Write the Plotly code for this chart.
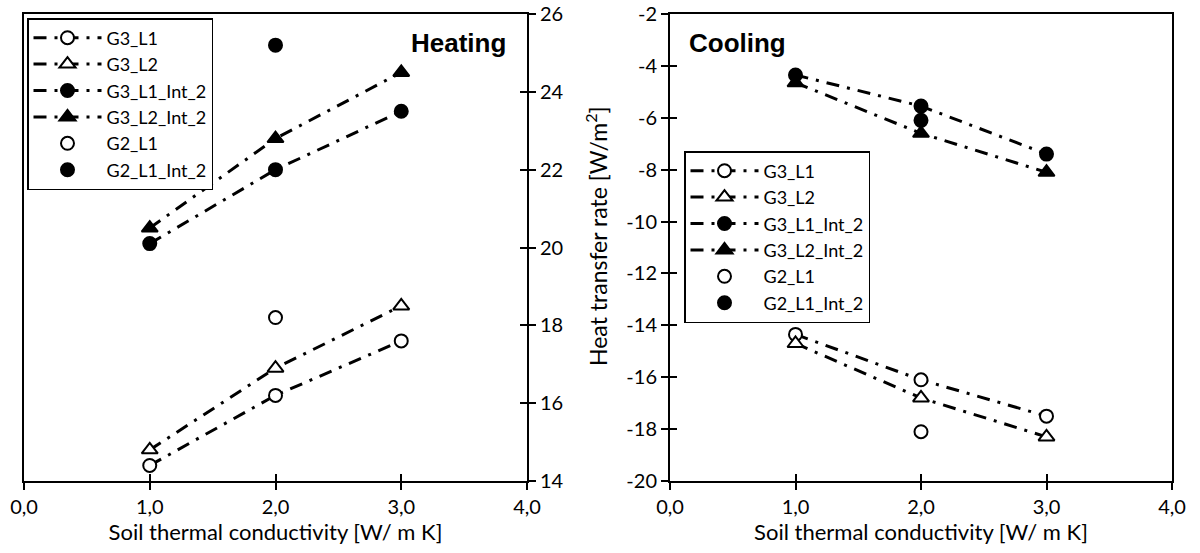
import plotly.graph_objects as go

# ---- data ----
x_vals = [1, 2, 3]
x_single = [2]
xtick_vals = [0, 1, 2, 3, 4]
xtick_text = ["0,0", "1,0", "2,0", "3,0", "4,0"]
heat_tick_vals = [14, 16, 18, 20, 22, 24, 26]
heat_tick_text = ["14", "16", "18", "20", "22", "24", "26"]
cool_tick_vals = [-20, -18, -16, -14, -12, -10, -8, -6, -4, -2]
cool_tick_text = ["-20", "-18", "-16", "-14", "-12", "-10", "-8", "-6", "-4", "-2"]

heat_G3_L1 = [14.4, 16.2, 17.6]
heat_G3_L2 = [14.8, 16.9, 18.5]
heat_G3_L1_Int_2 = [20.1, 22.0, 23.5]
heat_G3_L2_Int_2 = [20.5, 22.8, 24.5]
heat_G2_L1 = [18.2]
heat_G2_L1_Int_2 = [25.2]

cool_G3_L1 = [-14.35, -16.1, -17.5]
cool_G3_L2 = [-14.7, -16.8, -18.3]
cool_G3_L1_Int_2 = [-4.35, -5.55, -7.4]
cool_G3_L2_Int_2 = [-4.65, -6.6, -8.1]
cool_G2_L1 = [-18.1]
cool_G2_L1_Int_2 = [-6.1]

names = ["G3_L1", "G3_L2", "G3_L1_Int_2", "G3_L2_Int_2", "G2_L1", "G2_L1_Int_2"]

FONT = "Lato"
DASH = "13px,8px,3px,8px"

fig = go.Figure()

def add_series(xs, ys, name, symbol, filled, line, xa, ya, legend):
    fig.add_trace(go.Scatter(
        x=xs, y=ys, name=name, xaxis=xa, yaxis=ya, legend=legend,
        mode="lines+markers" if line else "markers",
        line=dict(color="black", width=3, dash=DASH),
        marker=dict(symbol=symbol, size=13 if symbol == "circle" else 14,
                    color="black" if filled else "white",
                    line=dict(color="black", width=2)),
    ))

heat = [heat_G3_L1, heat_G3_L2, heat_G3_L1_Int_2, heat_G3_L2_Int_2, heat_G2_L1, heat_G2_L1_Int_2]
cool = [cool_G3_L1, cool_G3_L2, cool_G3_L1_Int_2, cool_G3_L2_Int_2, cool_G2_L1, cool_G2_L1_Int_2]
symbols = ["circle", "triangle-up", "circle", "triangle-up", "circle", "circle"]
filled = [False, False, True, True, False, True]
lines = [True, True, True, True, False, False]

for i in range(6):
    xs = x_vals if lines[i] else x_single
    add_series(xs, heat[i], names[i], symbols[i], filled[i], lines[i], "x", "y", "legend")
for i in range(6):
    xs = x_vals if lines[i] else x_single
    add_series(xs, cool[i], names[i], symbols[i], filled[i], lines[i], "x2", "y2", "legend2")

tickfont = dict(family=FONT, size=20, color="black")
xtitlefont = dict(family=FONT, size=22, color="black")
ytitlefont = dict(family=FONT, size=23, color="black")

xcommon = dict(range=[0, 4], tickvals=xtick_vals, ticktext=xtick_text, ticks="outside",
               ticklen=7, tickwidth=2, tickcolor="black", showline=True, linewidth=2,
               linecolor="black", mirror=True, showgrid=False, zeroline=False,
               tickfont=tickfont, automargin=False)

xd1 = [24 / 1200, 527 / 1200]
xd2 = [670 / 1200, 1172 / 1200]
yd = [1 - 481 / 553, 1 - 14 / 553]

fig.update_layout(
    width=1200, height=553,
    margin=dict(l=0, r=0, t=0, b=0),
    paper_bgcolor="white", plot_bgcolor="white",
    font=dict(family=FONT, color="black"),
    xaxis=dict(domain=xd1, anchor="y",
               title=dict(text="Soil thermal conductivity [W/ m K]", font=xtitlefont, standoff=6),
               **xcommon),
    xaxis2=dict(domain=xd2, anchor="y2",
                title=dict(text="Soil thermal conductivity [W/ m K]", font=xtitlefont, standoff=6),
                **xcommon),
    yaxis=dict(domain=yd, anchor="x", side="right", range=[14, 26],
               tickvals=heat_tick_vals, ticktext=heat_tick_text,
               ticks="outside", ticklen=7, tickwidth=2, tickcolor="black",
               showline=True, linewidth=2, linecolor="black", mirror=True,
               showgrid=False, zeroline=False, tickfont=tickfont, automargin=False),
    yaxis2=dict(domain=yd, anchor="x2", range=[-20, -2],
                tickvals=cool_tick_vals, ticktext=cool_tick_text,
                ticks="outside", ticklen=7, tickwidth=2, tickcolor="black",
                showline=True, linewidth=2, linecolor="black", mirror=True,
                showgrid=False, zeroline=False, tickfont=tickfont, automargin=False),
    # overlay axes providing the inner half of the crossing tick marks
    xaxis3=dict(overlaying="x", anchor="y", range=[0, 4], tickvals=xtick_vals,
                showticklabels=False, ticks="inside", ticklen=7, tickwidth=2, tickcolor="black",
                showline=False, showgrid=False, zeroline=False),
    yaxis3=dict(overlaying="y", anchor="x", side="right", range=[14, 26], tickvals=heat_tick_vals,
                showticklabels=False, ticks="inside", ticklen=7, tickwidth=2, tickcolor="black",
                showline=False, showgrid=False, zeroline=False),
    xaxis4=dict(overlaying="x2", anchor="y2", range=[0, 4], tickvals=xtick_vals,
                showticklabels=False, ticks="inside", ticklen=7, tickwidth=2, tickcolor="black",
                showline=False, showgrid=False, zeroline=False),
    yaxis4=dict(overlaying="y2", anchor="x2", range=[-20, -2], tickvals=cool_tick_vals,
                showticklabels=False, ticks="inside", ticklen=7, tickwidth=2, tickcolor="black",
                showline=False, showgrid=False, zeroline=False),
    showlegend=True,
    legend=dict(x=27 / 1200, y=1 - 18 / 553, xanchor="left", yanchor="top",
                bgcolor="white", bordercolor="black", borderwidth=1.5,
                font=dict(family=FONT, size=18, color="black"),
                itemwidth=68, tracegroupgap=0, traceorder="normal"),
    legend2=dict(x=684 / 1200, y=1 - 151 / 553, xanchor="left", yanchor="top",
                 bgcolor="white", bordercolor="black", borderwidth=1.5,
                 font=dict(family=FONT, size=18, color="black"),
                 itemwidth=68, tracegroupgap=0, traceorder="normal"),
    annotations=[
        dict(text="<b>Heating</b>", xref="paper", yref="paper", x=508 / 1200, y=1 - 43 / 553,
             xanchor="right", yanchor="middle", showarrow=False,
             font=dict(family="Liberation Sans", size=26, color="black")),
        dict(text="<b>Cooling</b>", xref="paper", yref="paper", x=687 / 1200, y=1 - 43 / 553,
             xanchor="left", yanchor="middle", showarrow=False,
             font=dict(family="Liberation Sans", size=26, color="black")),
        dict(text="Heat transfer rate [W/m<sup>2</sup>]", xref="paper", yref="paper",
             x=596 / 1200, y=1 - 236 / 553, xanchor="center", yanchor="middle",
             textangle=-90, showarrow=False, font=ytitlefont),
    ],
)

# invisible carriers so the overlay tick axes are drawn
fig.add_trace(go.Scatter(x=[], y=[], xaxis="x3", yaxis="y3", showlegend=False, hoverinfo="skip"))
fig.add_trace(go.Scatter(x=[], y=[], xaxis="x4", yaxis="y4", showlegend=False, hoverinfo="skip"))

fig.write_html("out.html")
